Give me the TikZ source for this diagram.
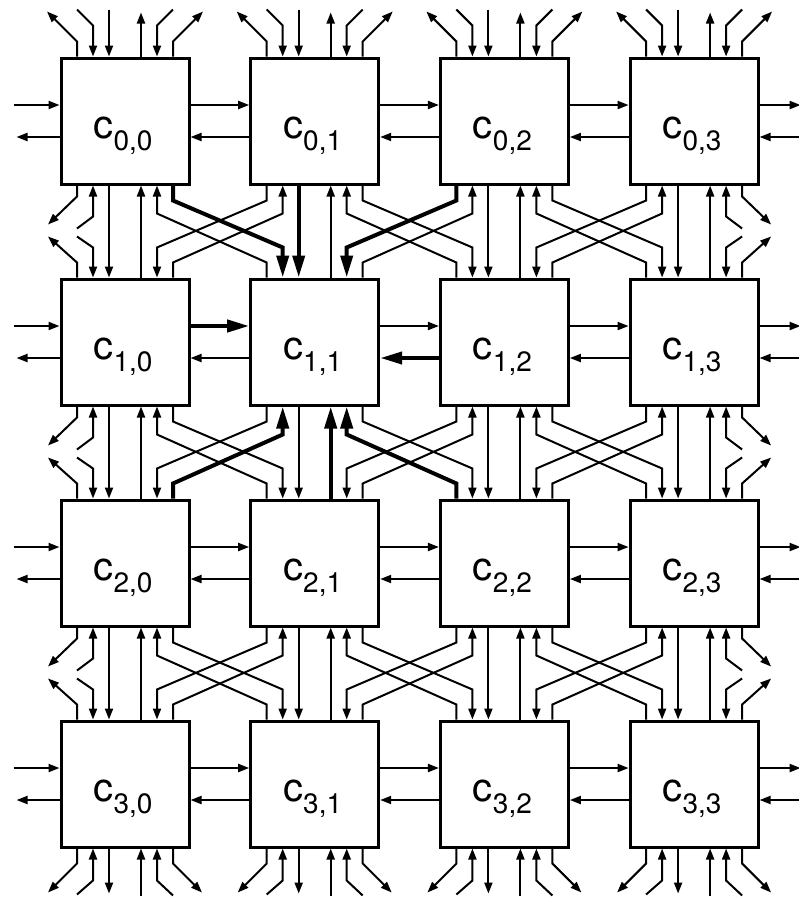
\documentclass[tikz,border=0pt]{standalone}
\usepackage{fontspec}
\setmainfont{TeX Gyre Heros}
\usetikzlibrary{arrows.meta, calc}

\begin{document}
\begin{tikzpicture}[x=1pt, y=-1pt,
  cell/.style={draw, line width=3pt, minimum width=128pt, minimum height=126pt, inner sep=0pt},
  tag/.style={anchor=base, inner sep=0pt},
  wire/.style={line width={2pt+2pt*(#1)}, -{Triangle[length=0pt 5.5, width=4pt 2]}},
  wire/.default=0,
]
  \useasboundingbox (0,0) rectangle (799,898);

  \foreach \i in {0,...,3} {
    \foreach \j in {0,...,3} {
      \node[cell] (c-\i-\j) at ({125+189.7*\j}, {121+221*\i}) {};
      \node[tag] (t-\i-\j) at ($(c-\i-\j.center)+(-2,17)$)
        {{\fontsize{40}{40}\selectfont c}\raisebox{-12pt}{\fontsize{28}{28}\selectfont \i,\j}};
    }
  }

  % row links
  \foreach \i in {0,...,3} {
    \foreach \j/\k in {0/1,1/2,2/3} {
      \draw[wire={(\i==1)*(\j==0)}] ($(c-\i-\j.east)+(0,-16)$) -- ($(c-\i-\k.west)+(0,-16)$);
      \draw[wire={(\i==1)*(\j==1)}] ($(c-\i-\k.west)+(0,16)$) -- ($(c-\i-\j.east)+(0,16)$);
    }
    \draw[wire] ($(c-\i-0.west)+(-46,-16)$) -- ($(c-\i-0.west)+(0,-16)$);
    \draw[wire] ($(c-\i-0.west)+(0,16)$) -- ++(-43,0);
    \draw[wire] ($(c-\i-3.east)+(0,-16)$) -- ++(41,0);
    \draw[wire] ($(c-\i-3.east)+(41,16)$) -- ($(c-\i-3.east)+(0,16)$);
  }

  % column links
  \foreach \up/\dn in {0/1,1/2,2/3} {
    \foreach \j in {0,...,3} {
      \draw[wire={(\up==0)*(\j==1)}] ($(c-\up-\j.south)+(-16,0)$) -- ($(c-\dn-\j.north)+(-16,0)$);
      \draw[wire={(\up==1)*(\j==1)}] ($(c-\dn-\j.north)+(16,0)$) -- ($(c-\up-\j.south)+(16,0)$);
    }
    \foreach \j/\k in {0/1,1/2,2/3} {
      \draw[wire={(\up==0)*(\j==0)}] ($(c-\up-\j.south)+(48,0)$) -- ++(0,15)
        -- ($(c-\dn-\k.north)+(-32,-30)$) -- ($(c-\dn-\k.north)+(-32,0)$);
      \draw[wire={(\up==1)*(\j==1)}] ($(c-\dn-\k.north)+(-48,0)$) -- ++(0,-15)
        -- ($(c-\up-\j.south)+(32,28)$) -- ($(c-\up-\j.south)+(32,0)$);
      \draw[wire={(\up==0)*(\j==1)}] ($(c-\up-\k.south)+(-48,0)$) -- ++(0,15)
        -- ($(c-\dn-\j.north)+(32,-30)$) -- ($(c-\dn-\j.north)+(32,0)$);
      \draw[wire={(\up==1)*(\j==0)}] ($(c-\dn-\j.north)+(48,0)$) -- ++(0,-15)
        -- ($(c-\up-\k.south)+(-32,28)$) -- ($(c-\up-\k.south)+(-32,0)$);
    }
    % open ends left and right
    \draw[wire] ($(c-\up-0.south)+(-48,0)$) -- ++(0,11) -- ++(-29,28);
    \draw[wire] ($(c-\up-0.south)+(-48,43)$) -- ($(c-\up-0.south)+(-32,31)$) -- ($(c-\up-0.south)+(-32,0)$);
    \draw[wire] ($(c-\dn-0.north)+(-48,0)$) -- ++(0,-15) -- ++(-29,-26);
    \draw[wire] ($(c-\dn-0.north)+(-48,-41)$) -- ($(c-\dn-0.north)+(-32,-30)$) -- ($(c-\dn-0.north)+(-32,0)$);
    \draw[wire] ($(c-\up-3.south)+(48,0)$) -- ++(0,11) -- ++(29,28);
    \draw[wire] ($(c-\up-3.south)+(48,43)$) -- ($(c-\up-3.south)+(32,31)$) -- ($(c-\up-3.south)+(32,0)$);
    \draw[wire] ($(c-\dn-3.north)+(48,0)$) -- ++(0,-15) -- ++(29,-26);
    \draw[wire] ($(c-\dn-3.north)+(48,-41)$) -- ($(c-\dn-3.north)+(32,-30)$) -- ($(c-\dn-3.north)+(32,0)$);
  }

  % open ends top and bottom
  \foreach \j in {0,...,3} {
    \draw[wire] ($(c-0-\j.north)+(-48,0)$) -- ++(0,-15) -- ++(-30,-30);
    \draw[wire] ($(c-0-\j.north)+(-48,-47)$) -- ($(c-0-\j.north)+(-32,-31)$) -- ($(c-0-\j.north)+(-32,0)$);
    \draw[wire] ($(c-0-\j.north)+(-16,-47)$) -- ($(c-0-\j.north)+(-16,0)$);
    \draw[wire] ($(c-0-\j.north)+(16,0)$) -- ++(0,-44);
    \draw[wire] ($(c-0-\j.north)+(48,-47)$) -- ($(c-0-\j.north)+(32,-31)$) -- ($(c-0-\j.north)+(32,0)$);
    \draw[wire] ($(c-0-\j.north)+(48,0)$) -- ++(0,-15) -- ++(30,-30);
    \draw[wire] ($(c-3-\j.south)+(-48,0)$) -- ++(0,15) -- ++(-29,29);
    \draw[wire] ($(c-3-\j.south)+(-48,46)$) -- ($(c-3-\j.south)+(-32,32)$) -- ($(c-3-\j.south)+(-32,0)$);
    \draw[wire] ($(c-3-\j.south)+(-16,0)$) -- ++(0,45);
    \draw[wire] ($(c-3-\j.south)+(16,47)$) -- ($(c-3-\j.south)+(16,0)$);
    \draw[wire] ($(c-3-\j.south)+(48,47)$) -- ($(c-3-\j.south)+(32,32)$) -- ($(c-3-\j.south)+(32,0)$);
    \draw[wire] ($(c-3-\j.south)+(48,0)$) -- ++(0,15) -- ++(29,29);
  }
\end{tikzpicture}
\end{document}
